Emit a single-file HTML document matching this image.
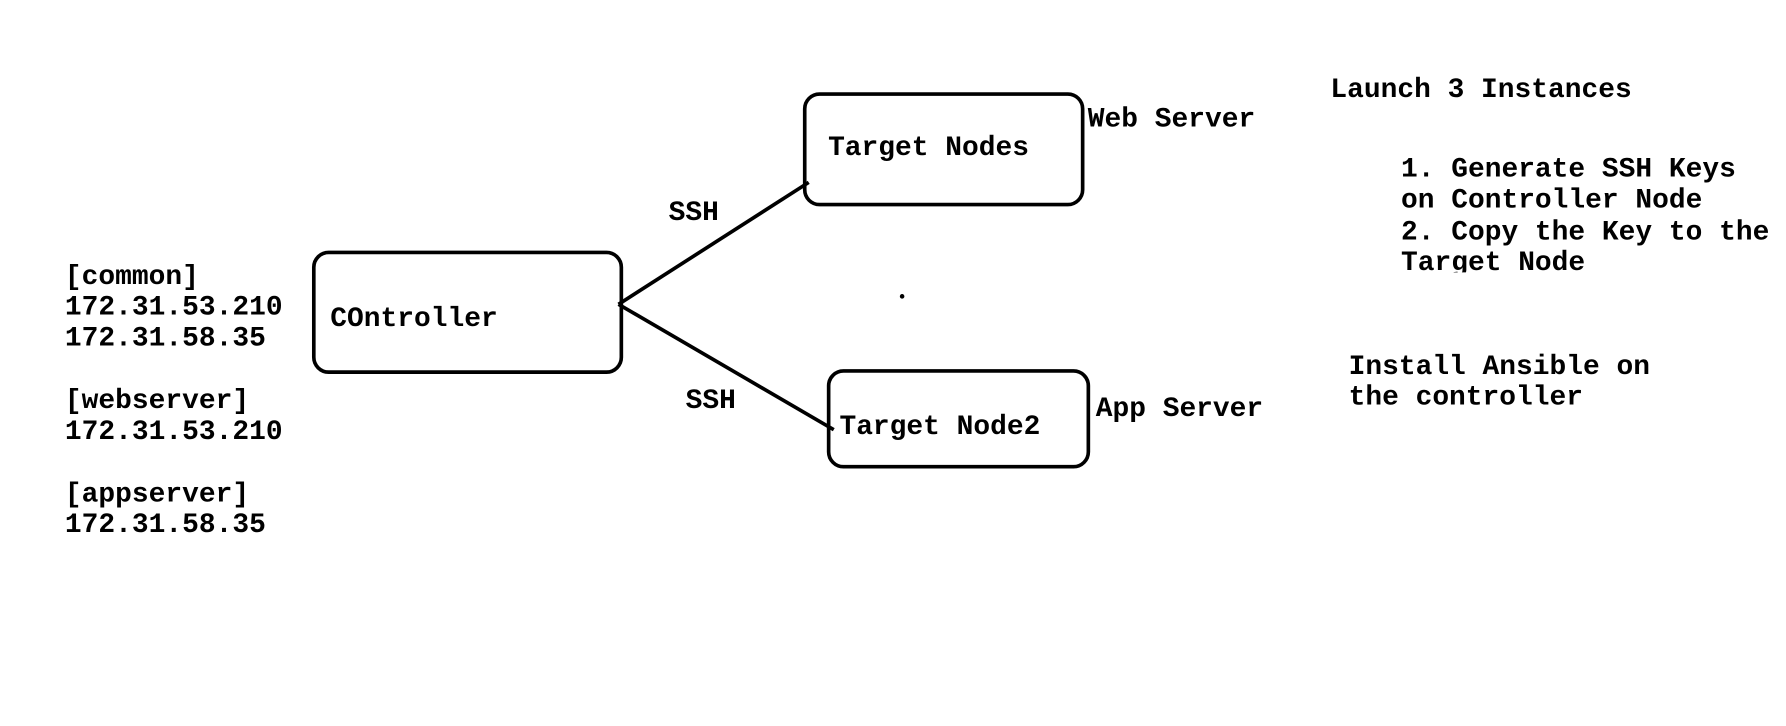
<!DOCTYPE html>
<html><head><meta charset="utf-8"><style>
html,body{margin:0;padding:0;background:#fff;}
svg{display:block;}
text{font-family:"Liberation Mono","Courier New",monospace;font-weight:bold;font-size:24.5px;fill:#000;}
</style></head><body>
<svg width="1786" height="726" viewBox="0 0 1568 637" preserveAspectRatio="none" xmlns="http://www.w3.org/2000/svg">
<rect x="0" y="0" width="1568" height="637" fill="#fff"/>
<g fill="none" stroke="#000" stroke-width="3.2">
<rect x="275.5" y="221.5" width="270" height="105" rx="13"/>
<rect x="706.5" y="82.5" width="244" height="97" rx="13"/>
<rect x="727.5" y="325.5" width="228" height="84" rx="13"/>
<line x1="543" y1="267" x2="710" y2="160"/>
<line x1="543" y1="267" x2="732" y2="377"/>
</g>
<circle cx="792" cy="260" r="2" fill="#000"/>
<text x="727" y="136">Target Nodes</text>
<text x="290" y="286">COntroller</text>
<text x="737" y="381">Target Node2</text>
<text x="955" y="111">Web Server</text>
<text x="962" y="365">App Server</text>
<text x="587" y="193">SSH</text>
<text x="602" y="358">SSH</text>
<text x="57" y="249">[common]</text>
<text x="57" y="276">172.31.53.210</text>
<text x="57" y="303">172.31.58.35</text>
<text x="57" y="358">[webserver]</text>
<text x="57" y="385">172.31.53.210</text>
<text x="57" y="440">[appserver]</text>
<text x="57" y="467">172.31.58.35</text>
<text x="1168" y="85">Launch 3 Instances</text>
<text x="1230" y="155">1. Generate SSH Keys</text>
<text x="1230" y="182">on Controller Node</text>
<text x="1230" y="210">2. Copy the Key to the</text>
<svg x="0" y="0" width="1568" height="239" viewBox="0 0 1568 239" overflow="hidden"><text x="1230" y="237">Target Node</text></svg>
<text x="1184" y="328">Install Ansible on</text>
<text x="1184" y="355">the controller</text>
</svg>
</body></html>
